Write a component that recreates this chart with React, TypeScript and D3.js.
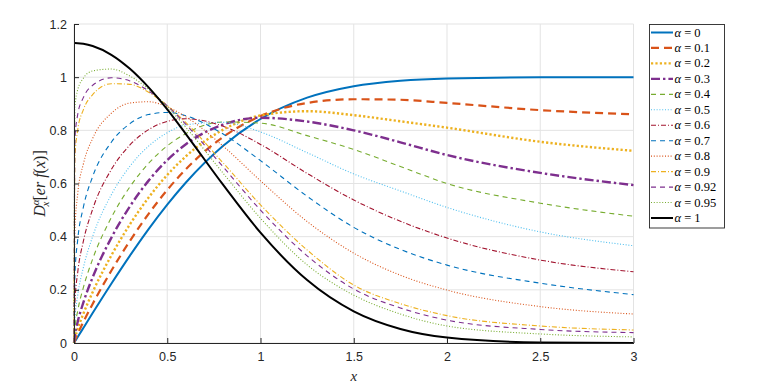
import * as d3 from "d3";
import { useEffect, useRef } from "react";

// sample points on the x axis
const X_VALUES = [0, 0.005, 0.02, 0.05, 0.1, 0.2, 0.3, 0.4, 0.5, 0.6, 0.8, 1.0, 1.25, 1.5, 1.75, 2.0, 2.5, 3.0];

// D^alpha [erf(x)], one array per order
const A_000 = [0, 0.0056, 0.0226, 0.0564, 0.1125, 0.2227, 0.3286, 0.4284, 0.5205, 0.6039, 0.7421, 0.8427, 0.9229, 0.9661, 0.9867, 0.9953, 0.9996, 1.0];
const A_010 = [0, 0.0100, 0.0347, 0.079, 0.1471, 0.2716, 0.3843, 0.4858, 0.5758, 0.6539, 0.7752, 0.8535, 0.903, 0.917, 0.915, 0.903, 0.876, 0.86];
const A_020 = [0, 0.0175, 0.053, 0.110, 0.1913, 0.3290, 0.4464, 0.5470, 0.6321, 0.7025, 0.8025, 0.8558, 0.872, 0.857, 0.834, 0.81, 0.757, 0.723];
const A_030 = [0, 0.0304, 0.080, 0.152, 0.2467, 0.3956, 0.5143, 0.6108, 0.6880, 0.7478, 0.8219, 0.8473, 0.833, 0.80, 0.755, 0.707, 0.64, 0.594];
const A_040 = [0, 0.0526, 0.121, 0.208, 0.3157, 0.4717, 0.5876, 0.6759, 0.7416, 0.7877, 0.8316, 0.827, 0.780, 0.728, 0.664, 0.60, 0.526, 0.477];
const A_050 = [0, 0.090, 0.180, 0.283, 0.4005, 0.5575, 0.6650, 0.7406, 0.7910, 0.8205, 0.8301, 0.7939, 0.716, 0.636, 0.572, 0.51, 0.418, 0.366];
const A_060 = [0, 0.153, 0.266, 0.382, 0.5033, 0.6524, 0.7450, 0.8026, 0.8338, 0.8435, 0.8154, 0.7471, 0.638, 0.538, 0.458, 0.395, 0.312, 0.268];
const A_070 = [0, 0.257, 0.389, 0.510, 0.6260, 0.7553, 0.8253, 0.8595, 0.8673, 0.8545, 0.7861, 0.686, 0.552, 0.435, 0.352, 0.293, 0.225, 0.182];
const A_080 = [0, 0.426, 0.562, 0.673, 0.7696, 0.8642, 0.9026, 0.9076, 0.8882, 0.8506, 0.7404, 0.6102, 0.457, 0.338, 0.255, 0.199, 0.137, 0.109];
const A_090 = [0, 0.699, 0.802, 0.877, 0.9340, 0.9754, 0.9730, 0.9431, 0.8932, 0.8291, 0.6770, 0.5198, 0.350, 0.218, 0.148, 0.103, 0.064, 0.049];
const A_092 = [0, 0.769, 0.860, 0.923, 0.9694, 0.9976, 0.9859, 0.9483, 0.8921, 0.8223, 0.6621, 0.4999, 0.328, 0.203, 0.132, 0.086, 0.051, 0.039];
const A_095 = [0, 0.889, 0.953, 0.996, 1.0236, 1.0306, 1.0040, 0.9547, 0.8887, 0.8109, 0.6383, 0.4691, 0.294, 0.18, 0.109, 0.064, 0.034, 0.023];
const A_100 = [1.1284, 1.1284, 1.1280, 1.1256, 1.1172, 1.0842, 1.0313, 0.9615, 0.8788, 0.7860, 0.5946, 0.4151, 0.2366, 0.1189, 0.0527, 0.0207, 0.0022, 0.0001];

const ALPHA_LABELS = ["0", "0.1", "0.2", "0.3", "0.4", "0.5", "0.6", "0.7", "0.8", "0.9", "0.92", "0.95", "1"];
const SERIES = [A_000, A_010, A_020, A_030, A_040, A_050, A_060, A_070, A_080, A_090, A_092, A_095, A_100];

const X_TICKS = [0, 0.5, 1, 1.5, 2, 2.5, 3];
const Y_TICKS = [0, 0.2, 0.4, 0.6, 0.8, 1, 1.2];

// matlab-ish line styles
const STYLES = [
  { color: "#0072BD", width: 2,   dash: null },
  { color: "#D95319", width: 2.2, dash: "8,5" },
  { color: "#EDB120", width: 2.4, dash: "2.2,2.2" },
  { color: "#7E2F8E", width: 2.4, dash: "9,3,2.4,3" },
  { color: "#77AC30", width: 1.1, dash: "5,4" },
  { color: "#4DBEEE", width: 1.1, dash: "1,1.8" },
  { color: "#A2142F", width: 1.1, dash: "5,2,1,2" },
  { color: "#0072BD", width: 1.1, dash: "5,4" },
  { color: "#D95319", width: 1.1, dash: "1,1.8" },
  { color: "#EDB120", width: 1.1, dash: "5,2,1,2" },
  { color: "#7E2F8E", width: 1.1, dash: "5,4" },
  { color: "#77AC30", width: 1.1, dash: "1,1.8" },
  { color: "#000000", width: 2,   dash: null },
];

const W = 782;
const H = 389;
const PLOT = { left: 74, right: 633.5, top: 24, bottom: 343 };
const AXIS_COLOR = "#262626";
const GRID_COLOR = "#e3e3e3";

export default function App() {
  const svgRef = useRef(null);

  useEffect(() => {
    const svg = d3.select(svgRef.current);
    svg.selectAll("*").remove();

    const x = d3.scaleLinear().domain([0, 3]).range([PLOT.left, PLOT.right]);
    const y = d3.scaleLinear().domain([0, 1.2]).range([PLOT.bottom, PLOT.top]);

    svg.append("rect").attr("width", W).attr("height", H).attr("fill", "#fff");

    // ── grid ──
    const grid = svg.append("g");
    grid.selectAll(".gx").data(X_TICKS).enter().append("line")
      .attr("x1", (d) => x(d)).attr("x2", (d) => x(d))
      .attr("y1", PLOT.top).attr("y2", PLOT.bottom)
      .attr("stroke", GRID_COLOR).attr("stroke-width", 1);
    grid.selectAll(".gy").data(Y_TICKS).enter().append("line")
      .attr("x1", PLOT.left).attr("x2", PLOT.right)
      .attr("y1", (d) => y(d)).attr("y2", (d) => y(d))
      .attr("stroke", GRID_COLOR).attr("stroke-width", 1);

    // ── curves ──
    const line = d3.line()
      .x((d) => x(d[0]))
      .y((d) => y(d[1]))
      .curve(d3.curveMonotoneX);

    SERIES.forEach((vals, i) => {
      const st = STYLES[i];
      svg.append("path")
        .datum(X_VALUES.map((xv, k) => [xv, vals[k]]))
        .attr("fill", "none")
        .attr("stroke", st.color)
        .attr("stroke-width", st.width)
        .attr("stroke-dasharray", st.dash)
        .attr("stroke-linejoin", "round")
        .attr("d", line);
    });

    // ── axes ──
    const fmt = d3.format("~g");
    const xAxis = svg.append("g")
      .attr("transform", `translate(0,${PLOT.bottom})`)
      .call(d3.axisBottom(x).tickValues(X_TICKS).tickFormat(fmt).tickSizeInner(-5).tickSizeOuter(0).tickPadding(9));
    const yAxis = svg.append("g")
      .attr("transform", `translate(${PLOT.left},0)`)
      .call(d3.axisLeft(y).tickValues(Y_TICKS).tickFormat(fmt).tickSizeInner(-5).tickSizeOuter(0).tickPadding(7));

    [xAxis, yAxis].forEach((a) => {
      a.select(".domain").attr("stroke", AXIS_COLOR).attr("stroke-width", 1);
      a.selectAll(".tick line").attr("stroke", AXIS_COLOR);
      a.selectAll(".tick text")
        .attr("fill", AXIS_COLOR)
        .style("font-family", "'Liberation Sans', Arial, sans-serif")
        .style("font-size", "12.5px");
    });

    // axis titles
    svg.append("text")
      .attr("x", x(1.5)).attr("y", 381)
      .attr("text-anchor", "middle")
      .style("font-family", "'Liberation Serif', serif")
      .style("font-style", "italic")
      .style("font-size", "15px")
      .attr("fill", AXIS_COLOR)
      .text("x");

    const yl = svg.append("text")
      .attr("transform", `translate(45,${(PLOT.top + PLOT.bottom) / 2}) rotate(-90)`)
      .attr("text-anchor", "middle")
      .style("font-family", "'Liberation Serif', serif")
      .style("font-size", "16px")
      .attr("fill", AXIS_COLOR);
    yl.append("tspan").style("font-style", "italic").text("D");
    yl.append("tspan").attr("dy", -6).style("font-size", "11px").style("font-style", "italic").text("α");
    yl.append("tspan").attr("dx", -7).attr("dy", 10).style("font-size", "11px").style("font-style", "italic").text("x");
    yl.append("tspan").attr("dx", 1).attr("dy", -4).text("[");
    yl.append("tspan").style("font-style", "italic").text("er f");
    yl.append("tspan").text("(");
    yl.append("tspan").style("font-style", "italic").text("x");
    yl.append("tspan").text(")]");

    // ── legend ──
    const lg = svg.append("g");
    lg.append("rect")
      .attr("x", 649.5).attr("y", 24.5)
      .attr("width", 75).attr("height", 203.5)
      .attr("fill", "#fff")
      .attr("stroke", AXIS_COLOR)
      .attr("stroke-width", 0.9);

    const rowY = d3.scalePoint().domain(ALPHA_LABELS).range([32.5, 218]);

    ALPHA_LABELS.forEach((lab, i) => {
      const st = STYLES[i];
      const cy = rowY(lab);
      lg.append("line")
        .attr("x1", 651).attr("x2", 673)
        .attr("y1", cy).attr("y2", cy)
        .attr("stroke", st.color)
        .attr("stroke-width", st.width)
        .attr("stroke-dasharray", st.dash);
      const t = lg.append("text")
        .attr("x", 674.5).attr("y", cy + 4)
        .style("font-family", "'Liberation Serif', serif")
        .style("font-size", "12.5px")
        .attr("fill", "#000");
      t.append("tspan").style("font-style", "italic").text("α");
      t.append("tspan").text(` = ${lab}`);
    });
  }, []);

  return (
    <svg
      ref={svgRef}
      width={W}
      height={H}
      style={{ position: "absolute", left: 0, top: 0, display: "block" }}
    />
  );
}
